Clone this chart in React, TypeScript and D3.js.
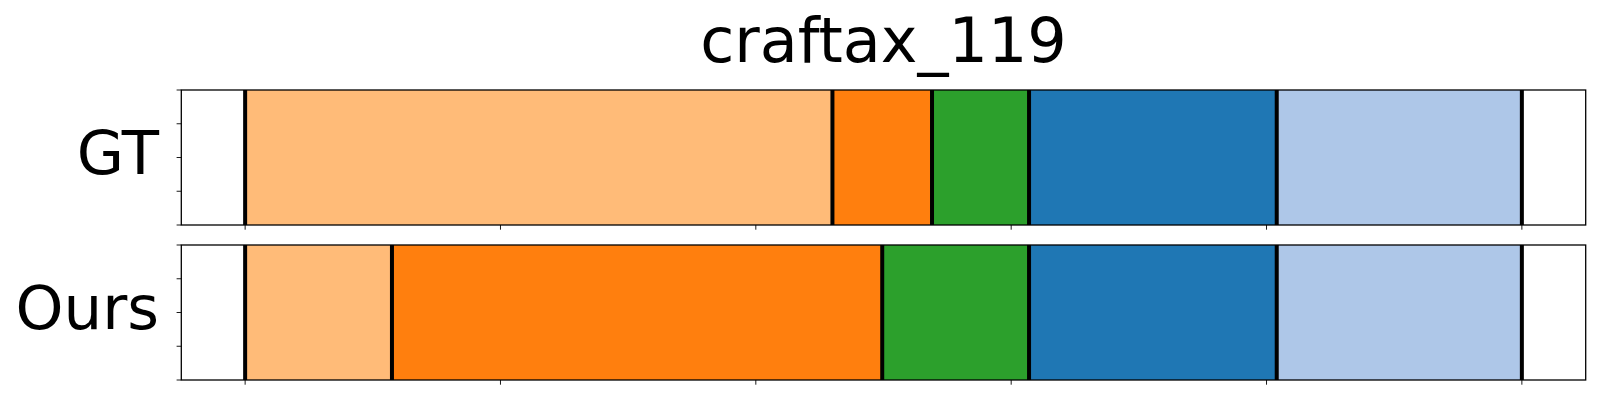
import React from "react";
import * as d3 from "d3";

// segment colours (tab20 picks) and boundaries in x units
const segmentColors = ["#ffbb78", "#ff7f0e", "#2ca02c", "#1f77b4", "#aec7e8"];
const gtBounds = [0, 2.3, 2.69, 3.07, 4.04, 5.0];
const oursBounds = [0, 0.575, 2.495, 3.07, 4.04, 5.0];
const rowLabels = ["GT", "Ours"];
const xTicks = [0, 1, 2, 3, 4, 5];
const yTicks = [0, 0.25, 0.5, 0.75, 1];
const title = "craftax_119";

const W = 1600;
const H = 400;
const font = "DejaVu Sans, sans-serif";

export default function App() {
  var x = d3.scaleLinear().domain([-0.25, 5.25]).range([181.3, 1585.7]);
  var panels = [
    { label: rowLabels[0], bounds: gtBounds, top: 90, bottom: 225 },
    { label: rowLabels[1], bounds: oursBounds, top: 245, bottom: 380 },
  ];

  return (
    <div style={{ position: "absolute", left: 0, top: 0 }}>
      <svg width={W} height={H} style={{ display: "block", background: "#fff" }}>
        <text
          x={(x.range()[0] + x.range()[1]) / 2}
          y={62.3}
          textAnchor="middle"
          fontFamily={font}
          fontSize={62}
          fill="#000"
        >
          {title}
        </text>
        {panels.map((p, pi) => {
          var y = d3.scaleLinear().domain([0, 1]).range([p.bottom, p.top]);
          var segs = d3.pairs(p.bounds);
          return (
            <g key={pi}>
              {segs.map(([a, b], i) => (
                <rect
                  key={i}
                  x={x(a)}
                  y={y(1)}
                  width={x(b) - x(a)}
                  height={y(0) - y(1)}
                  fill={segmentColors[i]}
                />
              ))}
              {p.bounds.map((v, i) => (
                <line
                  key={"b" + i}
                  x1={x(v)}
                  x2={x(v)}
                  y1={y(1)}
                  y2={y(0)}
                  stroke="#000"
                  strokeWidth={4}
                />
              ))}
              <rect
                x={x.range()[0]}
                y={y(1)}
                width={x.range()[1] - x.range()[0]}
                height={y(0) - y(1)}
                fill="none"
                stroke="#000"
                strokeWidth={1.3}
              />
              {xTicks.map((t) => (
                <line
                  key={"xt" + t}
                  x1={x(t)}
                  x2={x(t)}
                  y1={y(0)}
                  y2={y(0) + 4.7}
                  stroke="#000"
                  strokeWidth={0.9}
                />
              ))}
              {yTicks.map((t) => (
                <line
                  key={"yt" + t}
                  x1={x.range()[0] - 4.7}
                  x2={x.range()[0]}
                  y1={y(t)}
                  y2={y(t)}
                  stroke="#000"
                  strokeWidth={0.9}
                />
              ))}
              <text
                x={159}
                y={(p.top + p.bottom) / 2 + 16}
                textAnchor="end"
                fontFamily={font}
                fontSize={61}
                fill="#000"
              >
                {p.label}
              </text>
            </g>
          );
        })}
      </svg>
    </div>
  );
}
